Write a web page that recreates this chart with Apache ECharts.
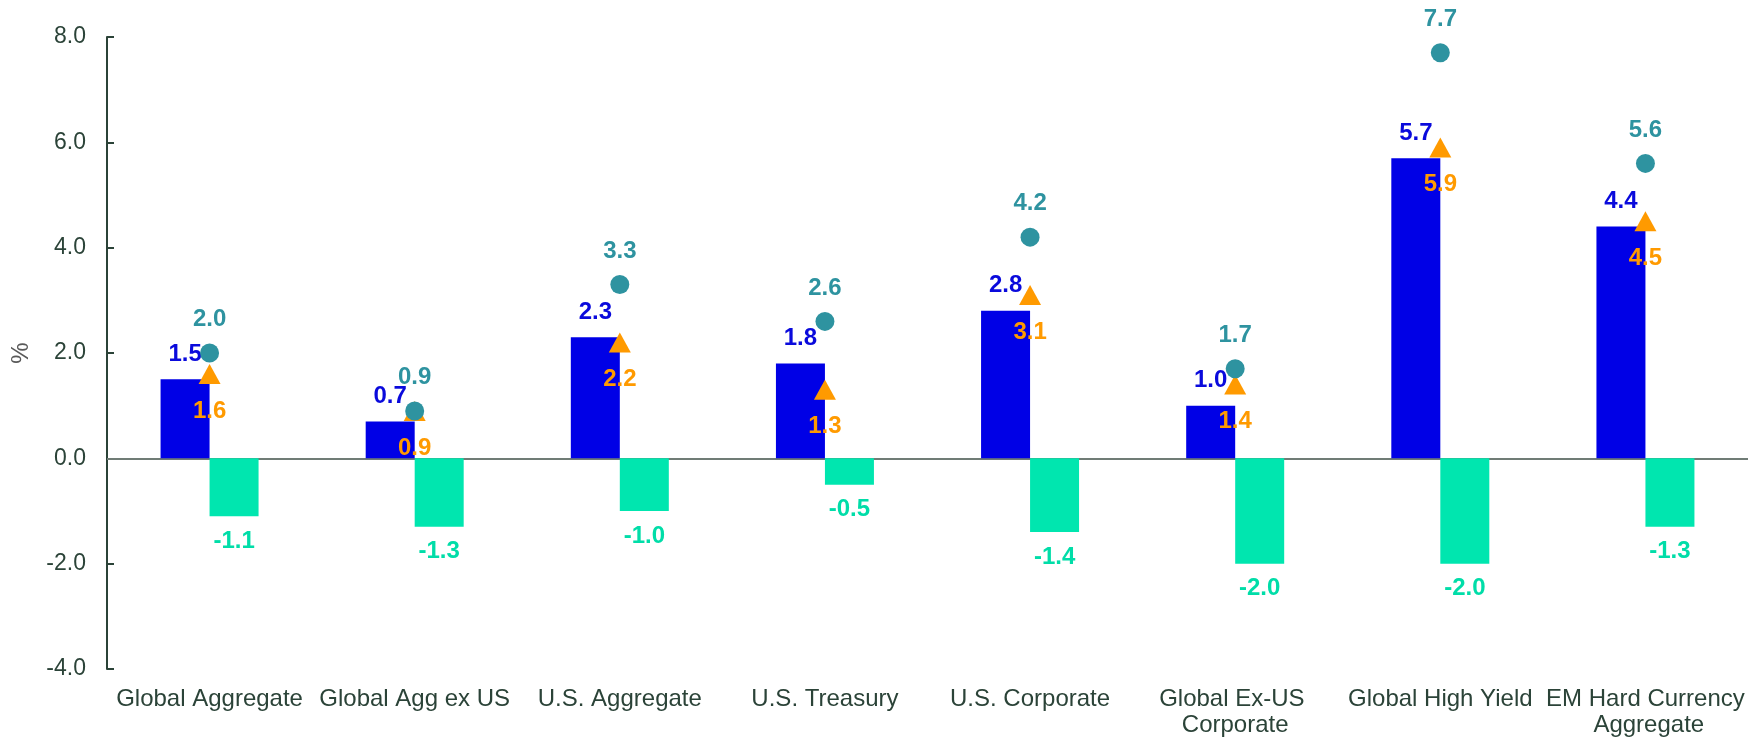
<!DOCTYPE html>
<html>
<head>
<meta charset="utf-8">
<script src="https://cdn.jsdelivr.net/npm/echarts@6/dist/echarts.min.js"></script>
<style>
html,body{margin:0;padding:0;background:#fff;}
#chart{width:1758px;height:737px;}
</style>
</head>
<body>
<div id="chart"></div>
<script>
const categories = ["Global Aggregate", "Global Agg ex US", "U.S. Aggregate", "U.S. Treasury", "U.S. Corporate", "Global Ex-US Corporate", "Global High Yield", "EM Hard Currency Aggregate"];
const blueBars = [1.5, 0.7, 2.3, 1.8, 2.8, 1.0, 5.7, 4.4];
const greenBars = [-1.1, -1.3, -1.0, -0.5, -1.4, -2.0, -2.0, -1.3];
const circles = [2.0, 0.9, 3.3, 2.6, 4.2, 1.7, 7.7, 5.6];
const triangles = [1.6, 0.9, 2.2, 1.3, 3.1, 1.4, 5.9, 4.5];
const yTicks = { min: -4, max: 8, interval: 2 };

const FONT = "Liberation Sans, Arial, sans-serif";
const fmt = p => Number(p.value).toFixed(1);

const chart = echarts.init(document.getElementById('chart'), null, { renderer: 'canvas' });
chart.setOption({
  animation: false,
  backgroundColor: '#ffffff',
  grid: { left: 107, right: 10, top: 37, bottom: 68, containLabel: false, outerBoundsMode: 'none' },
  xAxis: {
    type: 'category',
    data: categories,
    axisLine: { show: false, onZero: false },
    axisTick: { show: false },
    axisLabel: {
      interval: 0,
      color: '#2B4338',
      fontFamily: FONT,
      fontSize: 24,
      lineHeight: 26,
      margin: 17,
      width: 204,
      overflow: 'break'
    },
    splitLine: { show: false }
  },
  yAxis: {
    type: 'value',
    min: yTicks.min,
    max: yTicks.max,
    interval: yTicks.interval,
    name: '%',
    nameLocation: 'middle',
    nameRotate: 90,
    nameGap: 74,
    nameTextStyle: { color: '#595959', fontFamily: FONT, fontSize: 24 },
    axisLine: { show: true, lineStyle: { color: '#2B4338', width: 2 } },
    axisTick: { show: true, inside: true, length: 7, lineStyle: { color: '#2B4338', width: 2 } },
    axisLabel: {
      color: '#2B4338',
      fontFamily: FONT,
      fontSize: 23,
      margin: 21,
      formatter: v => v.toFixed(1)
    },
    splitLine: { show: false }
  },
  series: [
    {
      type: 'bar',
      data: blueBars,
      barWidth: 49,
      barGap: '0%',
      itemStyle: { color: '#0000E6' },
      label: {
        show: true, position: 'top', distance: 13,
        color: '#0A0ADC', fontFamily: FONT, fontSize: 24, fontWeight: 'bold',
        formatter: fmt
      },
      markLine: {
        silent: true,
        symbol: 'none',
        label: { show: false },
        lineStyle: { color: '#707C76', width: 2, type: 'solid' },
        data: [{ yAxis: 0 }],
        z: 1
      },
      z: 2
    },
    {
      type: 'bar',
      data: greenBars,
      barWidth: 49,
      barGap: '0%',
      itemStyle: { color: '#00E6AF' },
      label: {
        show: true, position: 'outside', distance: 13,
        color: '#00DDA8', fontFamily: FONT, fontSize: 24, fontWeight: 'bold',
        formatter: fmt
      },
      z: 2
    },
    {
      type: 'scatter',
      data: triangles,
      symbol: 'triangle',
      symbolSize: [22, 20],
      itemStyle: { color: '#FF9A00', opacity: 1 },
      label: {
        show: true, position: 'bottom', distance: 15,
        color: '#FF9A00', fontFamily: FONT, fontSize: 24, fontWeight: 'bold',
        formatter: fmt
      },
      z: 3
    },
    {
      type: 'scatter',
      data: circles,
      symbol: 'circle',
      symbolSize: 19,
      itemStyle: { color: '#2E93A0', opacity: 1 },
      label: {
        show: true, position: 'top', distance: 12,
        color: '#2E93A0', fontFamily: FONT, fontSize: 24, fontWeight: 'bold',
        formatter: fmt
      },
      z: 4
    }
  ]
});
</script>
</body>
</html>
